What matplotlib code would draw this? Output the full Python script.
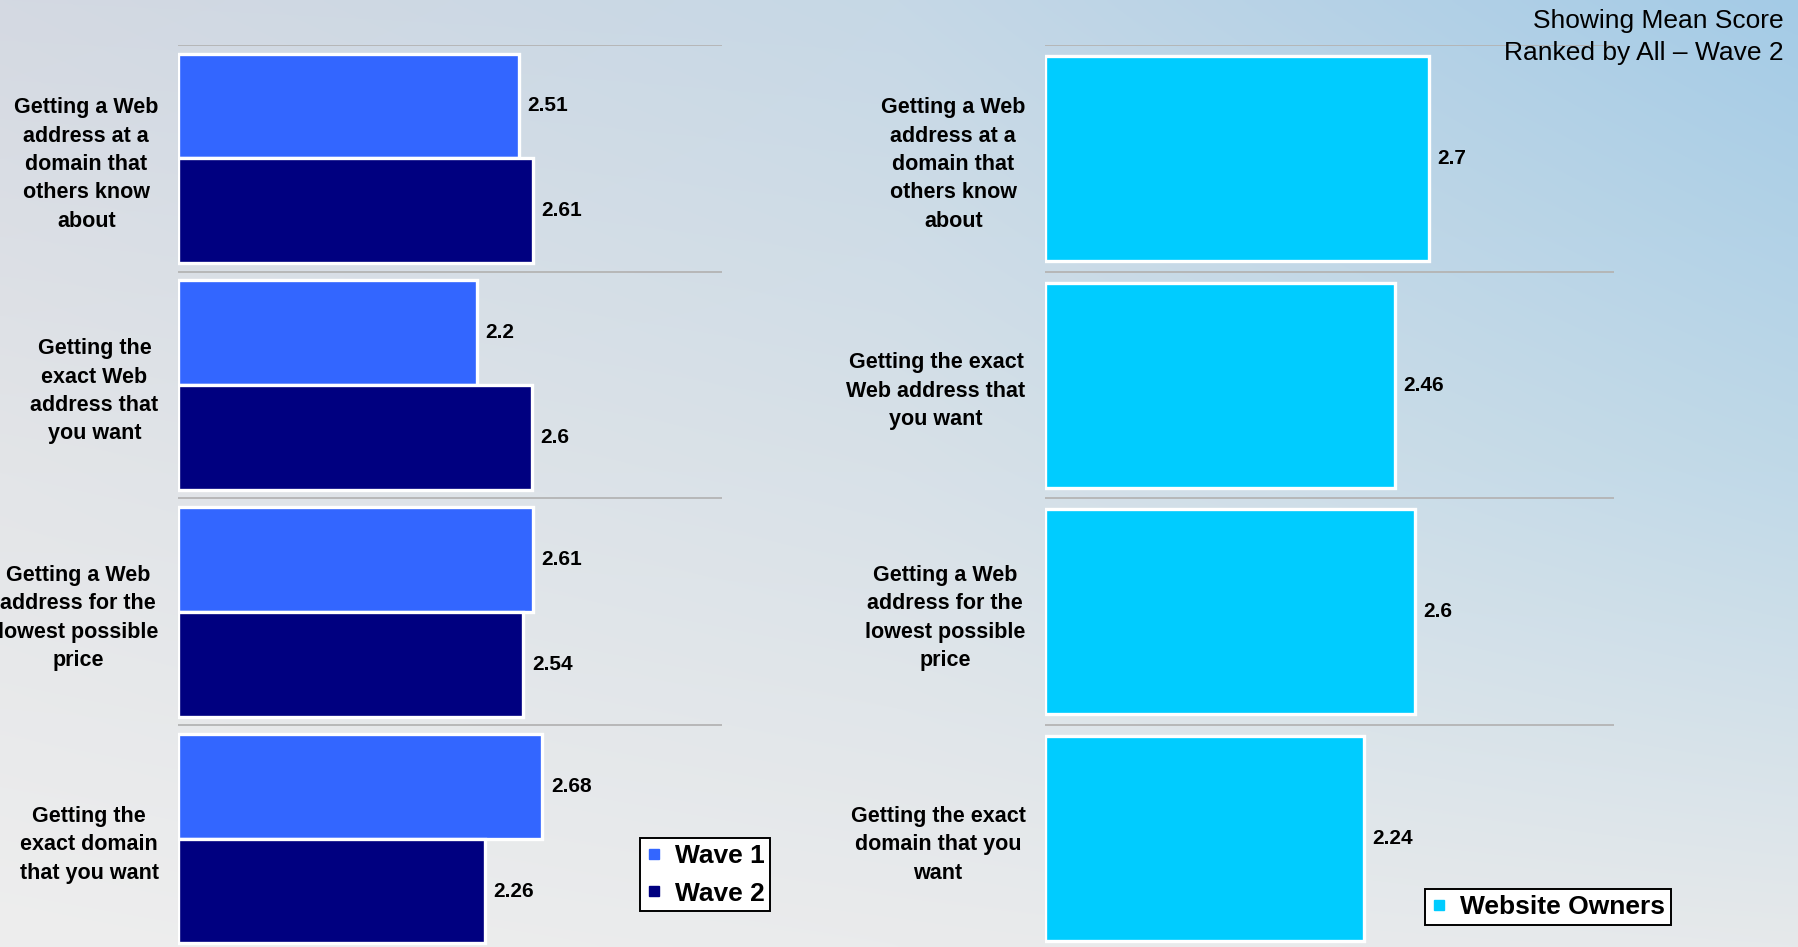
import numpy as np
import matplotlib
matplotlib.use("Agg")
import matplotlib.pyplot as plt
from matplotlib.lines import Line2D

plt.rcParams['font.family'] = ['Liberation Sans', 'DejaVu Sans']

# ---------------- data ----------------
left_labels = [
    "Getting a Web\naddress at a\ndomain that\nothers know\nabout",
    "Getting the\nexact Web\naddress that\nyou want",
    "Getting a Web\naddress for the\nlowest possible\nprice",
    "Getting the\nexact domain\nthat you want",
]
right_labels = [
    "Getting a Web\naddress at a\ndomain that\nothers know\nabout",
    "Getting the exact\nWeb address that\nyou want",
    "Getting a Web\naddress for the\nlowest possible\nprice",
    "Getting the exact\ndomain that you\nwant",
]
wave1 = [2.51, 2.2, 2.61, 2.68]
wave2 = [2.61, 2.6, 2.54, 2.26]
owners = [2.7, 2.46, 2.6, 2.24]
series_names = ["Wave 1", "Wave 2"]
owners_name = "Website Owners"
title_lines = ["Showing Mean Score", "Ranked by All \u2013 Wave 2"]

c_w1 = "#3366FF"
c_w2 = "#000080"
c_own = "#00CCFF"

W, H = 1798, 947
fig = plt.figure(figsize=(W / 100, H / 100), dpi=100)

# ---------------- background gradient ----------------
bg = fig.add_axes([0, 0, 1, 1], zorder=-10)
ctrl = np.array([
    [[0xd4, 0xd9, 0xe2], [0xc6, 0xd8, 0xe6], [0xa4, 0xcb, 0xe6]],
    [[0xe3, 0xe5, 0xe8], [0xd8, 0xe1, 0xe8], [0xc0, 0xd9, 0xe8]],
    [[0xee, 0xee, 0xee], [0xea, 0xeb, 0xec], [0xe6, 0xe9, 0xeb]],
], dtype=float) / 255.0
ny, nx = 200, 380
yy = np.linspace(0, 2, ny)[:, None]
xx = np.linspace(0, 2, nx)[None, :]
img = np.zeros((ny, nx, 3))
for ch in range(3):
    c = ctrl[:, :, ch]
    i0 = np.clip(np.floor(yy).astype(int), 0, 1)
    j0 = np.clip(np.floor(xx).astype(int), 0, 1)
    fy = yy - i0
    fx = xx - j0
    img[:, :, ch] = (c[i0, j0] * (1 - fy) * (1 - fx) + c[i0 + 1, j0] * fy * (1 - fx)
                     + c[i0, j0 + 1] * (1 - fy) * fx + c[i0 + 1, j0 + 1] * fy * fx)
bg.imshow(img, aspect='auto', extent=[0, 1, 0, 1], interpolation='bicubic')
bg.set_xlim(0, 1)
bg.set_ylim(0, 1)
bg.axis('off')

lab_font = dict(fontsize=15.5, fontweight='bold')
val_font = dict(fontsize=15, fontweight='bold')


def style_axes(ax, labels):
    ax.set_facecolor('none')
    ax.set_xlim(0, 4)
    ax.set_ylim(3.5, -0.5)
    for s in ax.spines.values():
        s.set_visible(False)
    ax.set_xticks([])
    ax.set_yticks(range(len(labels)))
    ax.set_yticklabels(labels, **lab_font, linespacing=1.46)
    for t in ax.get_yticklabels():
        t.set_multialignment('center')
    ax.tick_params(axis='y', length=0, pad=14)
    for yb in np.arange(-0.5, len(labels), 1.0):
        ax.axhline(yb, color='#b4b4b4', lw=1.3, zorder=0)


# ---------------- left chart ----------------
ax1 = fig.add_axes([178 / W, (H - 952) / H, (722 - 178) / W, 907 / H])
style_axes(ax1, left_labels)
y = np.arange(len(left_labels))
h = 0.462
b1 = ax1.barh(y - h / 2, wave1, height=h, color=c_w1, edgecolor='white', lw=2.4, zorder=2)
b2 = ax1.barh(y + h / 2, wave2, height=h, color=c_w2, edgecolor='white', lw=2.4, zorder=2)
for bars, vals in ((b1, wave1), (b2, wave2)):
    for rect, v in zip(bars, vals):
        ax1.annotate(f"{v:g}", xy=(v, rect.get_y() + rect.get_height() / 2),
                     xytext=(6, 0), textcoords='offset points', va='center', ha='left', **val_font)

leg1 = ax1.legend(handles=[Line2D([], [], marker='s', ls='', color=c, markersize=7.5)
                           for c in (c_w1, c_w2)],
                  labels=series_names, loc='upper left',
                  bbox_to_anchor=(640 / W, 1 - 838 / H), bbox_transform=fig.transFigure,
                  frameon=True, fancybox=False, edgecolor='black', framealpha=1,
                  prop=dict(size=19, weight='bold'), handlelength=0.6, handletextpad=0.5,
                  labelspacing=0.52, borderpad=0.22, borderaxespad=0)
leg1.get_frame().set_linewidth(1.4)

# ---------------- right chart ----------------
ax2 = fig.add_axes([1045 / W, (H - 952) / H, (1614 - 1045) / W, 907 / H])
style_axes(ax2, right_labels)
b3 = ax2.barh(y, owners, height=0.905, color=c_own, edgecolor='white', lw=2.4, zorder=2)
for rect, v in zip(b3, owners):
    ax2.annotate(f"{v:g}", xy=(v, rect.get_y() + rect.get_height() / 2),
                 xytext=(6, 0), textcoords='offset points', va='center', ha='left', **val_font)

leg2 = ax2.legend(handles=[Line2D([], [], marker='s', ls='', color=c_own, markersize=7.5)],
                  labels=[owners_name], loc='upper left',
                  bbox_to_anchor=(1425 / W, 1 - 889 / H), bbox_transform=fig.transFigure,
                  frameon=True, fancybox=False, edgecolor='black', framealpha=1,
                  prop=dict(size=19, weight='bold'), handlelength=0.6, handletextpad=0.5,
                  borderpad=0.22, borderaxespad=0)
leg2.get_frame().set_linewidth(1.4)

# ---------------- title ----------------
fig.text(1784 / W, 1 - 28 / H, title_lines[0], ha='right', va='baseline', fontsize=19)
fig.text(1784 / W, 1 - 60 / H, title_lines[1], ha='right', va='baseline', fontsize=19)

fig.savefig("out.png", dpi=100)
